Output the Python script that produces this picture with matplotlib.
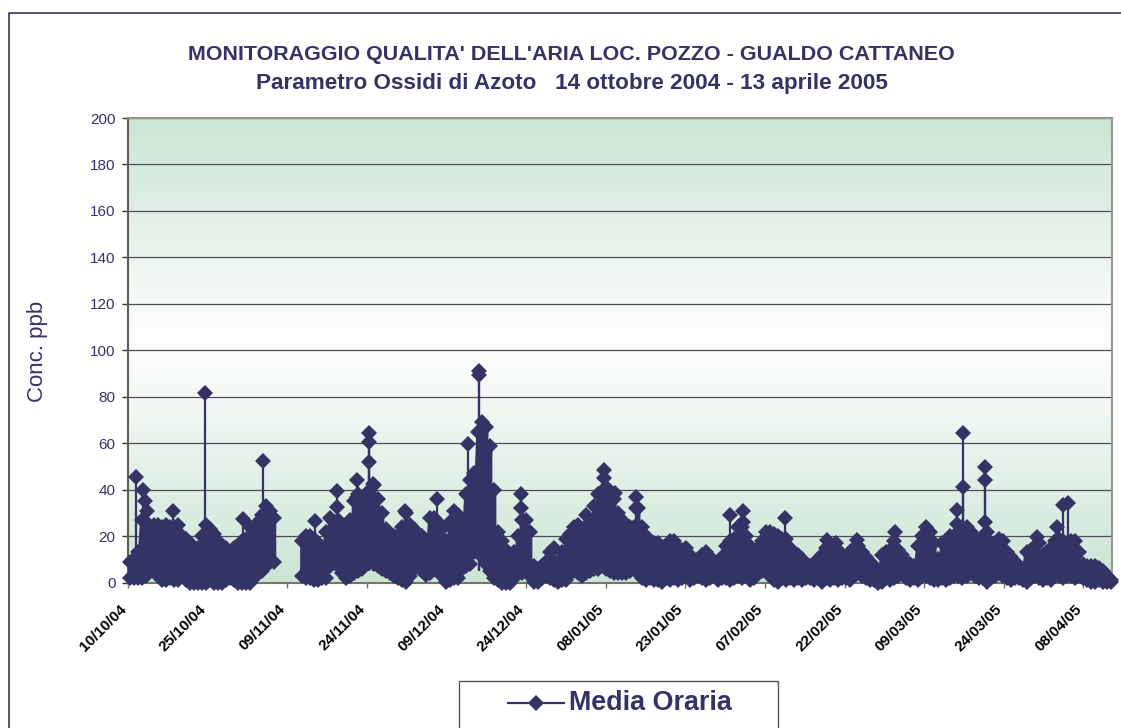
import numpy as np
import matplotlib
matplotlib.use("Agg")
import matplotlib.pyplot as plt
from matplotlib.colors import LinearSegmentedColormap
from matplotlib.lines import Line2D
from matplotlib.patches import Rectangle
from matplotlib.transforms import ScaledTranslation

nan = float("nan")

title_1 = "MONITORAGGIO QUALITA' DELL'ARIA LOC. POZZO - GUALDO CATTANEO"
title_2 = "Parametro Ossidi di Azoto   14 ottobre 2004 - 13 aprile 2005"
y_label = "Conc. ppb"
series_name = "Media Oraria"

date_labels = ["10/10/04", "25/10/04", "09/11/04", "24/11/04", "09/12/04", "24/12/04", "08/01/05",
               "23/01/05", "07/02/05", "22/02/05", "09/03/05", "24/03/05", "08/04/05"]
date_days = [0, 15, 30, 45, 60, 75, 90, 105, 120, 135, 150, 165, 180]
y_ticks = [0, 20, 40, 60, 80, 100, 120, 140, 160, 180, 200]

# highest and lowest hourly reading in each time slot
slot_high = [9, 10, 13, 27, 26, 24, 25, 25, 24, 25,
             24, 24, 25, 20, 19, 17, 14, 15, 20, 25,
             23, 21, 18, 15, 15, 13, 15, 16, 18, 19,
             24, 24, 26, 29, 33, 31, 28, nan, nan, nan,
             nan, nan, nan, 18, 20, 20, 19, 17, 15, 22,
             28, 26, 27, 24, 23, 27, 35, 38, 33, 38,
             40, 42, 36, 30, 23, 17, 20, 20, 24, 30,
             25, 23, 21, 20, 18, 28, 28, 26, 23, 18,
             26, 31, 29, 25, 38, 44, 47, 65, 69, 67,
             59, 40, 22, 18, 14, 11, 13, 20, 27, 27,
             22, 7, 6, 7, 9, 13, 15, 9, 13, 19,
             21, 24, 25, 22, 29, 26, 33, 38, 38, 41,
             35, 36, 30, 27, 25, 24, 24, 32, 24, 20,
             14, 17, 17, 14, 16, 18, 18, 15, 14, 15,
             12, 9, 10, 12, 13, 11, 9, 8, 11, 16,
             18, 19, 24, 24, 20, 16, 11, 15, 18, 22,
             22, 21, 20, 19, 19, 15, 10, 12, 10, 7,
             7, 7, 10, 12, 15, 15, 13, 14, 9, 11,
             13, 15, 16, 13, 11, 9, 7, 4, 12, 13,
             14, 18, 14, 12, 9, 8, 7, 16, 20, 24,
             22, 17, 10, 17, 18, 20, 20, 22, 24, 24,
             22, 19, 16, 20, 22, 17, 17, 19, 18, 13,
             11, 9, 7, 6, 13, 14, 16, 17, 12, 13,
             15, 18, 19, 18, 17, 18, 18, 13, 8, 7,
             7, 7, 6.5, 5, 3, 1]
slot_low = [2, 2, 2, 2, 3, 5, 5, 3, 1, 1,
            2, 1, 1, 3, 1, 0, 0, 0, 0, 0,
            1, 0, 0, 0, 1, 2, 1, 0, 0, 0,
            0, 2, 4, 5, 7, 9, 9, nan, nan, nan,
            nan, nan, nan, 3, 2, 2, 1, 1, 2, 2,
            7, 9, 7, 4, 2, 3, 4, 5, 6, 8,
            9, 8, 7, 6, 5, 4, 3, 2, 1, 0.5,
            3, 6, 7, 5, 3.5, 4, 6, 6, 3, 0.5,
            1, 2, 2, 6, 7, 8, 13, 15, 11, 8,
            5, 2, 1, 0, 0, 0, 2, 4, 4, 5,
            3, 0.5, 0.5, 2, 3, 2, 1, 0.5, 1, 1,
            4, 5, 4, 3, 4, 5, 6, 6, 7, 6,
            5, 4, 4, 4, 4, 5, 6, 4, 2, 1,
            2, 1, 1, 0.5, 2, 1, 2, 1, 2, 3,
            1, 2, 3, 2, 1, 2, 3, 1, 2, 2,
            1, 2, 3, 2, 3, 1, 2, 4, 5, 5,
            3, 1, 0.5, 2, 1, 2, 1, 2, 1, 2,
            2, 1, 2, 0.5, 2, 1, 2, 1, 2, 2,
            1, 3, 4, 3, 2, 1, 1, 0, 0.5, 2,
            1, 2, 3, 4, 2, 1, 2, 1, 3, 3,
            2, 1, 1, 2, 1, 2, 3, 3, 2, 3,
            4, 3, 2, 2, 0.5, 2, 3, 4, 3, 2,
            1, 2, 2, 1, 0.5, 2, 3, 2, 1, 2,
            1, 3, 3, 2, 3, 3, 2, 3, 2, 1,
            0.5, 0.5, 1, 0.5, 0.5, 0.5]

# isolated peaks that stick out of the mass of points
peak_days = [1.5, 2.8, 3.2, 3.6, 8.4, 14.5, 21.7, 25.4, 35.2, 39.4, 39.4, 43.2, 43.2,
             45.4, 45.4, 45.4, 46.2, 52.2, 58.2, 64.1, 66.1, 66.1, 74.1, 74.1,
             89.7, 89.7, 91.8, 95.7, 95.7, 113.4, 115.9, 115.9, 123.8, 131.7, 133.4,
             137.4, 144.5, 156.2, 156.2, 157.3, 157.3, 161.4, 161.4, 161.4,
             171.3, 175.1, 176.2, 177.1]
peak_values = [45.5, 40, 35, 31, 31, 81.5, 27.6, 52.5, 26.7, 39.5, 32.5, 44, 37,
               64.5, 60.7, 52, 42.5, 31, 36, 59.5, 91, 89.5, 38, 32,
               48.5, 45, 38.6, 37, 32, 29, 31, 26, 27.7, 18.4, 17,
               18.4, 21.8, 31.3, 25.4, 64.5, 41, 50, 44, 26,
               19.7, 24, 33.5, 34.2]

navy = "#333366"
W, H = 1121, 728
marker_size = 8.6


def fx(px):
    return px / W


def fy(py):
    return 1 - py / H


# one slot covers about 18 hours; the reading swings between its high and low
slot_days = 0.4 + 0.754 * np.arange(len(slot_high))
x = np.repeat(slot_days, 2)
y = np.column_stack([slot_high, slot_low]).ravel()

fig = plt.figure(figsize=(W / 100, H / 100), dpi=100)
plt.rcParams["font.family"] = ["Liberation Sans", "DejaVu Sans"]
ax = fig.add_axes([fx(128), fy(582.7), 984 / W, 464.7 / H])

# plot area fill, green - white - green
cmap = LinearSegmentedColormap.from_list("fill", [(0, "#cbe5d4"), (0.52, "#ffffff"), (1, "#cbe5d4")])
ax.imshow(np.linspace(0, 1, 256).reshape(-1, 1), extent=(0, 185.4, 200, 0), cmap=cmap,
          aspect="auto", zorder=0, vmin=0, vmax=1)
ax.set_xlim(0, 185.4)
ax.set_ylim(0, 200)

ax.yaxis.grid(True, color="#4d4d55", lw=0.9, zorder=1)
ax.set_axisbelow(True)

# thick line so the swings close up into a solid mass, as in the original
ax.plot(x, y, color=navy, lw=3, marker="D", ms=marker_size, mew=0, clip_on=False, zorder=3)
ax.vlines(peak_days, 5, peak_values, color=navy, lw=1.6, zorder=3)
ax.plot(peak_days, peak_values, ls="", color=navy, marker="D", ms=marker_size, mew=0, clip_on=False, zorder=3)

ax.set_yticks(y_ticks)
ax.set_xticks(date_days)
ax.tick_params(axis="x", length=3.5, width=1, color="#77726c", pad=12)
ax.tick_params(axis="y", length=4, width=1, color="#333333", pad=5, labelsize=11, labelcolor=navy)
ax.set_xticklabels(date_labels, rotation=45, ha="right", rotation_mode="anchor",
                   fontsize=11, fontweight="bold", color="black")
shift = ScaledTranslation(-9 / 100, 2 / 100, fig.dpi_scale_trans)
for lab in ax.get_xticklabels():
    lab.set_transform(lab.get_transform() + shift)

for side in ["top", "right"]:
    ax.spines[side].set_color("#9c948c")
    ax.spines[side].set_linewidth(1.5)
ax.spines["left"].set_color("#605c58")
ax.spines["left"].set_linewidth(1.5)
ax.spines["bottom"].set_color("#77726c")
ax.spines["bottom"].set_linewidth(1.5)

fig.text(fx(571), fy(54), title_1, ha="center", va="center", fontsize=15.45, fontweight="bold", color=navy)
fig.text(fx(572), fy(84), title_2, ha="center", va="center", fontsize=16.2, fontweight="bold", color=navy)
fig.text(fx(37), fy(351), y_label, rotation=90, ha="center", va="center", fontsize=16, color=navy)

# frame of the chart, runs off the right and bottom of the picture
fig.add_artist(Line2D([fx(8.5), fx(8.5), 1], [0, fy(12.5), fy(12.5)], color=navy, lw=1.2))

# legend box, also cut off at the bottom
fig.add_artist(Rectangle((fx(459), -0.02), 319 / W, fy(681) + 0.02, facecolor="white",
                         edgecolor="#555555", lw=1, transform=fig.transFigure))
fig.add_artist(Line2D([fx(508), fx(564)], [fy(703), fy(703)], color=navy, lw=1.6))
fig.add_artist(Line2D([fx(536)], [fy(703)], color=navy, marker="D", ms=marker_size, mew=0))
fig.text(fx(569), fy(703), series_name, ha="left", va="center", fontsize=19.4, fontweight="bold", color=navy)

fig.savefig("out.png", dpi=100)
